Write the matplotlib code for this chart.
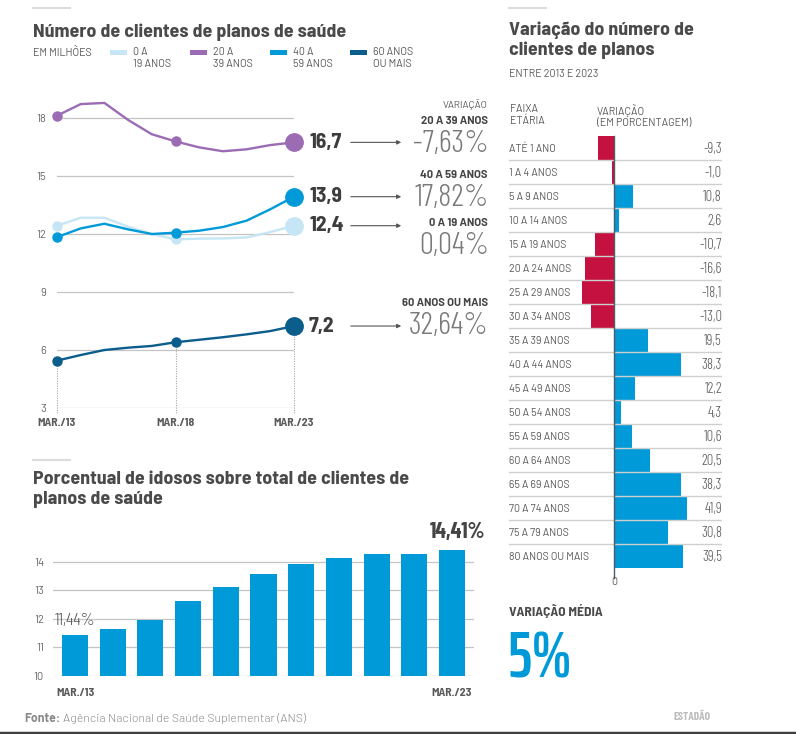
import matplotlib
matplotlib.use("Agg")
import matplotlib.pyplot as plt
from matplotlib.patches import Rectangle, FancyArrowPatch
from matplotlib.lines import Line2D

W, H = 796, 734

# --- dados: clientes por faixa (milhoes), mar/2013 a mar/2023
anos = list(range(2013, 2024))
faixa_0_19 = [12.43, 12.84, 12.84, 12.38, 12.0, 11.72, 11.76, 11.77, 11.82, 12.1, 12.43]
faixa_20_39 = [18.12, 18.72, 18.78, 17.9, 17.16, 16.79, 16.48, 16.28, 16.38, 16.6, 16.74]
faixa_40_59 = [11.84, 12.29, 12.53, 12.24, 12.0, 12.07, 12.17, 12.36, 12.69, 13.28, 13.93]
faixa_60_mais = [5.45, 5.74, 6.0, 6.12, 6.21, 6.4, 6.53, 6.66, 6.81, 6.98, 7.24]
variacao_series = [-7.63, 17.82, 0.04, 32.64]  # ordem: 20-39, 40-59, 0-19, 60+

# --- dados: variacao por faixa etaria 2013-2023 (%)
faixas = ["ATÉ 1 ANO", "1 A 4 ANOS", "5 A 9 ANOS", "10 A 14 ANOS", "15 A 19 ANOS",
          "20 A 24 ANOS", "25 A 29 ANOS", "30 A 34 ANOS", "35 A 39 ANOS", "40 A 44 ANOS",
          "45 A 49 ANOS", "50 A 54 ANOS", "55 A 59 ANOS", "60 A 64 ANOS", "65 A 69 ANOS",
          "70 A 74 ANOS", "75 A 79 ANOS", "80 ANOS OU MAIS"]
variacao_faixa = [-9.3, -1.0, 10.8, 2.6, -10.7, -16.6, -18.1, -13.0, 19.5, 38.3,
                  12.2, 4.3, 10.6, 20.5, 38.3, 41.9, 30.8, 39.5]

# --- dados: % de idosos sobre total
pct_idosos = [11.44, 11.64, 11.96, 12.61, 13.11, 13.57, 13.92, 14.13, 14.27, 14.28, 14.41]

C_LIGHT = "#c6e6f5"
C_PURPLE = "#9b6bb4"
C_BLUE = "#009ad8"
C_DARK = "#0b5d8c"
C_RED = "#c4113f"
C_TITLE = "#4a4a4a"
C_TXT = "#5a5a5a"
C_GRID = "#c4c4c4"

F_REG = "Barlow"
F_SEMI = "Barlow Semi Condensed"
F_COND = "Barlow Condensed"
SMALL = 7.7


def num(v, d=1):
    return f"{v:.{d}f}".replace(".", ",")


fig = plt.figure(figsize=(W / 100, H / 100), dpi=100)


def T(x, y, s, **kw):
    # x, y em pixels a partir do canto superior esquerdo
    return fig.text(x / W, 1 - y / H, s, **kw)


def hline(x0, x1, y, **kw):
    fig.add_artist(Line2D([x0 / W, x1 / W], [1 - y / H] * 2, transform=fig.transFigure, **kw))


# separadores curtos e linha inferior
hline(33, 70, 8, color="#dcdcdc", lw=1.5)
hline(509, 546, 8, color="#dcdcdc", lw=1.5)
hline(33, 70, 460, color="#dcdcdc", lw=1.5)
hline(0, W, 733, color="#3f3f3f", lw=2.5)

# ================= grafico de linhas =================
T(33, 32, "Número de clientes de planos de saúde", family=F_SEMI, fontweight="bold",
  fontsize=14.3, color=C_TITLE, va="center")
T(33, 53, "EM MILHÕES", family=F_REG, fontsize=SMALL, color=C_TXT, va="center")
leg = [("0 A\n19 ANOS", C_LIGHT, 110), ("20 A\n39 ANOS", C_PURPLE, 190),
       ("40 A\n59 ANOS", C_BLUE, 270), ("60 ANOS\nOU MAIS", C_DARK, 350)]
for lab, col, x in leg:
    fig.add_artist(Rectangle((x / W, 1 - 55 / H), 17 / W, 5 / H, transform=fig.transFigure,
                             color=col, lw=0))
    T(x + 23, 47, lab, family=F_REG, fontsize=SMALL, color=C_TXT, va="top", linespacing=1.2)

ax1 = fig.add_axes([57 / W, (H - 408) / H, 237 / W, (408 - 98.67) / H])
ax1.set_xlim(2013, 2023)
ax1.set_ylim(3, 19)
for s in ax1.spines.values():
    s.set_visible(False)
for t in [3, 6, 9, 12, 15, 18]:
    ax1.axhline(t, color=C_GRID, lw=0.9, zorder=0)
ax1.set_yticks([3, 6, 9, 12, 15, 18])
ax1.set_yticklabels(["3", "6", "9", "12", "15", "18"], family=F_REG, fontsize=8, color="#666")
ax1.set_xticks([2013, 2018, 2023])
ax1.set_xticklabels(["MAR./13", "MAR./18", "MAR./23"], family=F_SEMI, fontweight="bold",
                    fontsize=8.5, color=C_TXT)
ax1.tick_params(axis="y", length=0, pad=8)
ax1.tick_params(axis="x", length=0, pad=7.5)

for i in [0, 5, 10]:
    ax1.plot([anos[i], anos[i]], [2.75, faixa_60_mais[i]], ls=(0, (1, 1.2)), color="#a8a8a8",
             lw=0.8, clip_on=False, zorder=1)

series = [(faixa_0_19, C_LIGHT, 2), (faixa_20_39, C_PURPLE, 3),
          (faixa_40_59, C_BLUE, 4), (faixa_60_mais, C_DARK, 5)]
for vals, col, z in series:
    ax1.plot(anos, vals, color=col, lw=1.7, zorder=z, clip_on=False)
    ax1.plot([anos[0], anos[5]], [vals[0], vals[5]], "o", ms=6.5, color=col, zorder=z,
             clip_on=False)
    ax1.plot([anos[-1]], [vals[-1]], "o", ms=12.5, color=col, zorder=z, clip_on=False)

T(488, 104, "VARIAÇÃO", family=F_REG, fontsize=7.2, color=C_TXT, ha="right", va="center")
anot = [(faixa_20_39, "20 A 39 ANOS", 2), (faixa_40_59, "40 A 59 ANOS", 1),
        (faixa_0_19, "0 A 19 ANOS", 20), (faixa_60_mais, "60 ANOS OU MAIS", 0)]
for (vals, lab, dy), var in zip(anot, variacao_series):
    yp = H - ax1.transData.transform((anos[-1], vals[-1]))[1]
    T(309, yp, num(vals[-1]), family=F_SEMI, fontweight="bold", fontsize=15.5,
      color="#3d3d3d", va="center")
    fig.add_artist(FancyArrowPatch((348 / W, 1 - yp / H), (404 / W, 1 - yp / H),
                                   transform=fig.transFigure, arrowstyle="-|>",
                                   mutation_scale=6, lw=0.8, color="#555"))
    T(489, yp + dy, num(var, 2) + "%", family=F_COND, fontweight=300, fontsize=22.5,
      color="#7a7a7a", ha="right", va="center")
    T(488, yp + dy - 23, lab, family=F_REG, fontweight="bold", fontsize=8,
      color="#444", ha="right", va="center")

# ================= barras horizontais =================
T(509, 21, "Variação do número de\nclientes de planos", family=F_SEMI, fontweight="bold",
  fontsize=14.3, color=C_TITLE, va="top", linespacing=1.2)
T(509, 74, "ENTRE 2013 E 2023", family=F_REG, fontsize=SMALL, color=C_TXT, va="center")
T(510, 104, "FAIXA\nETÁRIA", family=F_REG, fontsize=SMALL, color=C_TXT, va="top",
  linespacing=1.15)
T(597, 104, "VARIAÇÃO\n(EM PORCENTAGEM)", family=F_REG, fontsize=SMALL, color=C_TXT,
  va="top", linespacing=1.15)

ax2 = fig.add_axes([509 / W, (H - 568) / H, 213 / W, 432 / H])
ax2.set_xlim(-60.24, 61.96)
ax2.set_ylim(len(faixas) - 0.5, -0.5)
ax2.axis("off")
cores = [C_RED if v < 0 else C_BLUE for v in variacao_faixa]
ax2.barh(range(len(faixas)), variacao_faixa, height=1.0, color=cores, zorder=2)
for i in range(len(faixas) - 1):
    ax2.axhline(i + 0.5, color="#cfcfcf", lw=1, zorder=3)
ax2.plot([0, 0], [-0.5, len(faixas) - 0.1], color="#4f5b66", lw=1, clip_on=False, zorder=4)
ax2.text(0, len(faixas) + 0.1, "0", family=F_REG, fontsize=SMALL, color=C_TXT,
         ha="center", va="center")
yt = ax2.get_yaxis_transform()
for i, (lab, v) in enumerate(zip(faixas, variacao_faixa)):
    ax2.text(0, i + 0.05, lab, transform=yt, family=F_REG, fontsize=7.6, color=C_TXT,
             ha="left", va="center", zorder=5)
    ax2.text(1, i + 0.05, num(v), transform=yt, family=F_COND, fontweight=300, fontsize=10.5,
             color=C_TXT, ha="right", va="center", zorder=5)

T(509, 611, "VARIAÇÃO MÉDIA", family=F_SEMI, fontweight="bold", fontsize=9.8,
  color=C_TITLE, va="center")
T(507, 678, "5%", family="Saira ExtraCondensed", fontweight=600, fontsize=47,
  color=C_BLUE, va="baseline")

# ================= barras verticais =================
T(33, 471, "Porcentual de idosos sobre total de clientes de\nplanos de saúde",
  family=F_SEMI, fontweight="bold", fontsize=14.3, color=C_TITLE, va="top", linespacing=1.2)

ax3 = fig.add_axes([53 / W, (H - 676) / H, 421 / W, 4.7 * 28.575 / H])
ax3.set_xlim(-0.584, len(pct_idosos) - 1 + 0.584)
ax3.set_ylim(10, 14.7)
for s in ax3.spines.values():
    s.set_visible(False)
for t in [10, 11, 12, 13, 14]:
    ax3.axhline(t, color=C_GRID, lw=0.9, zorder=0)
ax3.bar(range(len(pct_idosos)), [v - 10 for v in pct_idosos], bottom=10, width=0.69,
        color=C_BLUE, zorder=2)
ax3.set_yticks([10, 11, 12, 13, 14])
ax3.set_yticklabels(["10", "11", "12", "13", "14"], family=F_REG, fontsize=8, color="#666")
ax3.set_xticks([0, len(pct_idosos) - 1])
ax3.set_xticklabels(["MAR./13", "MAR./23"], family=F_SEMI, fontweight="bold",
                    fontsize=8.5, color=C_TXT)
ax3.tick_params(axis="y", length=0, pad=6.5)
ax3.tick_params(axis="x", length=0, pad=8.5)
ax3.annotate(num(pct_idosos[0], 2) + "%", xy=(0, pct_idosos[0]), xytext=(0, 4),
             textcoords="offset points", ha="center", va="bottom", family=F_COND,
             fontweight=300, fontsize=13, color=C_TXT)
ax3.annotate(num(pct_idosos[-1], 2) + "%", xy=(len(pct_idosos) - 1, pct_idosos[-1]),
             xytext=(4, 6), textcoords="offset points", ha="center", va="bottom",
             family=F_COND, fontweight="bold", fontsize=16, color="#444")

# rodape
T(24, 718, "Fonte:", family=F_REG, fontweight="bold", fontsize=8.8, color="#8a8a8a",
  va="center")
T(63, 718, "Agência Nacional de Saúde Suplementar (ANS)", family=F_REG, fontweight=300,
  fontsize=8.8, color="#8a8a8a", va="center")
T(673, 717, "ESTADÃO", family=F_COND, fontweight="bold", fontsize=8.2, color="#bdbdbd",
  va="center")

fig.savefig("out.png", dpi=100)
